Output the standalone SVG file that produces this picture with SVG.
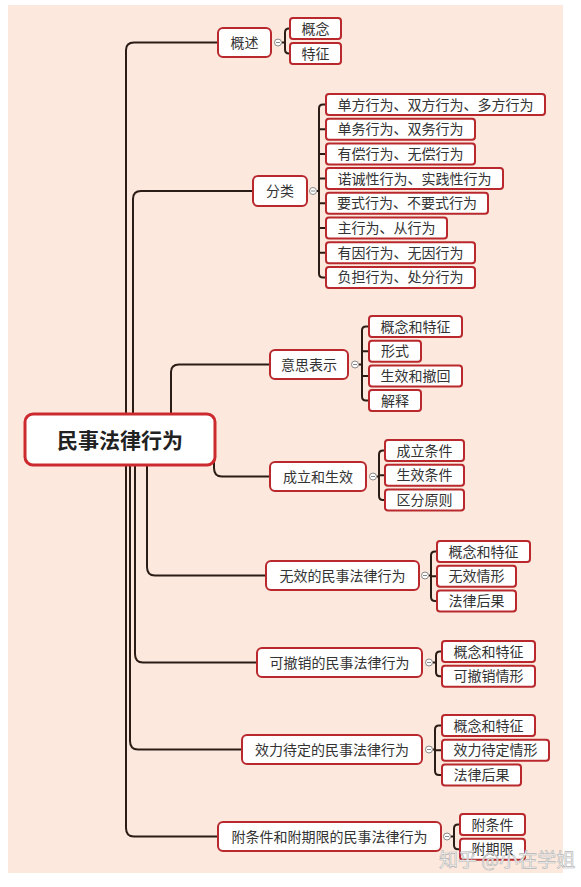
<svg xmlns="http://www.w3.org/2000/svg" width="581" height="887" viewBox="0 0 581 887">
<defs>
<style>
.bg{fill:#fce8dc}
.n1 rect{fill:#fff;stroke:#b8282d;stroke-width:2}
.n2 rect{fill:#fff;stroke:#b8282d;stroke-width:2}
text{font-family:"Noto Sans CJK SC","Noto Sans",sans-serif;font-size:14px;fill:#333;text-anchor:middle}
.root rect{fill:#fff;stroke:#cc2a2e;stroke-width:3}
.root text{font-size:21px;font-weight:bold;fill:#222}
.c path{fill:none;stroke:#2b1d16;stroke-width:2}
.tg circle{fill:#fff;stroke:#888;stroke-width:1}
.tg path{stroke:#888;stroke-width:1}
.wm{font-size:19px;fill:#f6f6f6;stroke:#b5b5b5;stroke-width:0.6;text-anchor:start}
</style>
</defs>
<rect class="bg" x="8" y="5" width="555" height="868"/>
<g id="connectors" class="c">
<path d="M126,414 V50 Q126,42.5 134,42.5 H218"/>
<path d="M133,414 V199 Q133,191 141,191 H253"/>
<path d="M171,414 V372 Q171,364.5 179,364.5 H270"/>
<path d="M214,455 V468 Q214,476.5 222,476.5 H270"/>
<path d="M147,465 V567 Q147,575.5 155,575.5 H266"/>
<path d="M135,465 V654 Q135,662.5 143,662.5 H257"/>
<path d="M130,465 V741 Q130,749.5 138,749.5 H242"/>
<path d="M126,465 V828 Q126,836.5 134,836.5 H218"/>
<path d="M282,42.5 H285 M290,28.5 H289 Q285,28.5 285,32.5 V49.5 Q285,53.5 289,53.5 H290"/>
<path d="M317,191 H319 M326,104.5 H323 Q319,104.5 319,108.5 V273.4 Q319,277.4 323,277.4 H326 M319,129.2 H326 M319,153.9 H326 M319,178.6 H326 M319,203.3 H326 M319,228 H326 M319,252.7 H326"/>
<path d="M359,364.5 H362 M369,326.5 H366 Q362,326.5 362,330.5 V396.6 Q362,400.6 366,400.6 H369 M362,351.2 H369 M362,375.9 H369"/>
<path d="M377,476.5 H379 M385,450.5 H383 Q379,450.5 379,454.5 V495.9 Q379,499.9 383,499.9 H385 M379,475.2 H385"/>
<path d="M429,575.5 H431 M437,551.5 H435 Q431,551.5 431,555.5 V596.9 Q431,600.9 435,600.9 H437 M431,576.2 H437"/>
<path d="M433,662.5 H436 M442,651.5 H440 Q436,651.5 436,655.5 V672.2 Q436,676.2 440,676.2 H442"/>
<path d="M433,749.5 H435 M442,725.5 H439 Q435,725.5 435,729.5 V770.9 Q435,774.9 439,774.9 H442 M435,750.2 H442"/>
<path d="M451,836.5 H454 M460,824.5 H458 Q454,824.5 454,828.5 V845.2 Q454,849.2 458,849.2 H460"/>
</g>
<g id="toggles" class="tg">
<circle cx="278" cy="42.5" r="3.5"/><path d="M276,42.5 H280"/>
<circle cx="313" cy="191" r="3.5"/><path d="M311,191 H315"/>
<circle cx="355" cy="364.5" r="3.5"/><path d="M353,364.5 H357"/>
<circle cx="373" cy="476.5" r="3.5"/><path d="M371,476.5 H375"/>
<circle cx="425" cy="575.5" r="3.5"/><path d="M423,575.5 H427"/>
<circle cx="429" cy="662.5" r="3.5"/><path d="M427,662.5 H431"/>
<circle cx="429" cy="749.5" r="3.5"/><path d="M427,749.5 H431"/>
<circle cx="447" cy="836.5" r="3.5"/><path d="M445,836.5 H449"/>
</g>
<g id="root" class="root"><rect x="25" y="414" width="190" height="51" rx="8"/><text x="120" y="447.5">民事法律行为</text></g>
<g id="n-gaishu" class="n1"><rect x="218" y="28" width="53" height="29" rx="5"/><text x="244.5" y="47.5">概述</text></g>
<g id="n-fenlei" class="n1"><rect x="253" y="176" width="54" height="30" rx="5"/><text x="280" y="196">分类</text></g>
<g id="n-yisi" class="n1"><rect x="270" y="350" width="78" height="29" rx="5"/><text x="309" y="369.5">意思表示</text></g>
<g id="n-chengli" class="n1"><rect x="270" y="462" width="96" height="29" rx="5"/><text x="318" y="481.5">成立和生效</text></g>
<g id="n-wuxiao" class="n1"><rect x="266" y="561" width="153" height="29" rx="5"/><text x="342.5" y="580.5">无效的民事法律行为</text></g>
<g id="n-kecx" class="n1"><rect x="257" y="648" width="165" height="29" rx="5"/><text x="339.5" y="667.5">可撤销的民事法律行为</text></g>
<g id="n-xiaoli" class="n1"><rect x="242" y="735" width="180" height="29" rx="5"/><text x="332" y="754.5">效力待定的民事法律行为</text></g>
<g id="n-fu" class="n1"><rect x="218" y="822" width="223" height="29" rx="5"/><text x="329.5" y="841.5">附条件和附期限的民事法律行为</text></g>
<g id="c1-1" class="n2"><rect x="290" y="18" width="51" height="21" rx="3"/><text x="315.5" y="33.5">概念</text></g>
<g id="c1-2" class="n2"><rect x="290" y="43" width="51" height="21" rx="3"/><text x="315.5" y="58.5">特征</text></g>
<g id="c2-1" class="n2"><rect x="326" y="94" width="219" height="21" rx="3"/><text x="435.5" y="109.5">单方行为、双方行为、多方行为</text></g>
<g id="c2-2" class="n2"><rect x="326" y="118.7" width="149" height="21" rx="3"/><text x="400.5" y="134.2">单务行为、双务行为</text></g>
<g id="c2-3" class="n2"><rect x="326" y="143.4" width="149" height="21" rx="3"/><text x="400.5" y="158.9">有偿行为、无偿行为</text></g>
<g id="c2-4" class="n2"><rect x="326" y="168.1" width="177" height="21" rx="3"/><text x="414.5" y="183.6">诺诚性行为、实践性行为</text></g>
<g id="c2-5" class="n2"><rect x="326" y="192.8" width="162" height="21" rx="3"/><text x="407" y="208.3">要式行为、不要式行为</text></g>
<g id="c2-6" class="n2"><rect x="326" y="217.5" width="121" height="21" rx="3"/><text x="386.5" y="233">主行为、从行为</text></g>
<g id="c2-7" class="n2"><rect x="326" y="242.2" width="149" height="21" rx="3"/><text x="400.5" y="257.7">有因行为、无因行为</text></g>
<g id="c2-8" class="n2"><rect x="326" y="266.9" width="149" height="21" rx="3"/><text x="400.5" y="282.4">负担行为、处分行为</text></g>
<g id="c3-1" class="n2"><rect x="369" y="316" width="93" height="21" rx="3"/><text x="415.5" y="331.5">概念和特征</text></g>
<g id="c3-2" class="n2"><rect x="369" y="340.7" width="52" height="21" rx="3"/><text x="395" y="356.2">形式</text></g>
<g id="c3-3" class="n2"><rect x="369" y="365.4" width="93" height="21" rx="3"/><text x="415.5" y="380.9">生效和撤回</text></g>
<g id="c3-4" class="n2"><rect x="369" y="390.1" width="52" height="21" rx="3"/><text x="395" y="405.6">解释</text></g>
<g id="c4-1" class="n2"><rect x="385" y="440" width="79" height="21" rx="3"/><text x="424.5" y="455.5">成立条件</text></g>
<g id="c4-2" class="n2"><rect x="385" y="464.7" width="79" height="21" rx="3"/><text x="424.5" y="480.2">生效条件</text></g>
<g id="c4-3" class="n2"><rect x="385" y="489.4" width="79" height="21" rx="3"/><text x="424.5" y="504.9">区分原则</text></g>
<g id="c5-1" class="n2"><rect x="437" y="541" width="93" height="21" rx="3"/><text x="483.5" y="556.5">概念和特征</text></g>
<g id="c5-2" class="n2"><rect x="437" y="565.7" width="79" height="21" rx="3"/><text x="476.5" y="581.2">无效情形</text></g>
<g id="c5-3" class="n2"><rect x="437" y="590.4" width="79" height="21" rx="3"/><text x="476.5" y="605.9">法律后果</text></g>
<g id="c6-1" class="n2"><rect x="442" y="641" width="93" height="21" rx="3"/><text x="488.5" y="656.5">概念和特征</text></g>
<g id="c6-2" class="n2"><rect x="442" y="665.7" width="93" height="21" rx="3"/><text x="488.5" y="681.2">可撤销情形</text></g>
<g id="c7-1" class="n2"><rect x="442" y="715" width="93" height="21" rx="3"/><text x="488.5" y="730.5">概念和特征</text></g>
<g id="c7-2" class="n2"><rect x="442" y="739.7" width="107" height="21" rx="3"/><text x="495.5" y="755.2">效力待定情形</text></g>
<g id="c7-3" class="n2"><rect x="442" y="764.4" width="79" height="21" rx="3"/><text x="481.5" y="779.9">法律后果</text></g>
<g id="c8-1" class="n2"><rect x="460" y="814" width="65" height="21" rx="3"/><text x="492.5" y="829.5">附条件</text></g>
<g id="c8-2" class="n2"><rect x="460" y="838.7" width="65" height="21" rx="3"/><text x="492.5" y="854.2">附期限</text></g>
<text class="wm" x="439" y="867">知乎 @小在学姐</text>
</svg>
